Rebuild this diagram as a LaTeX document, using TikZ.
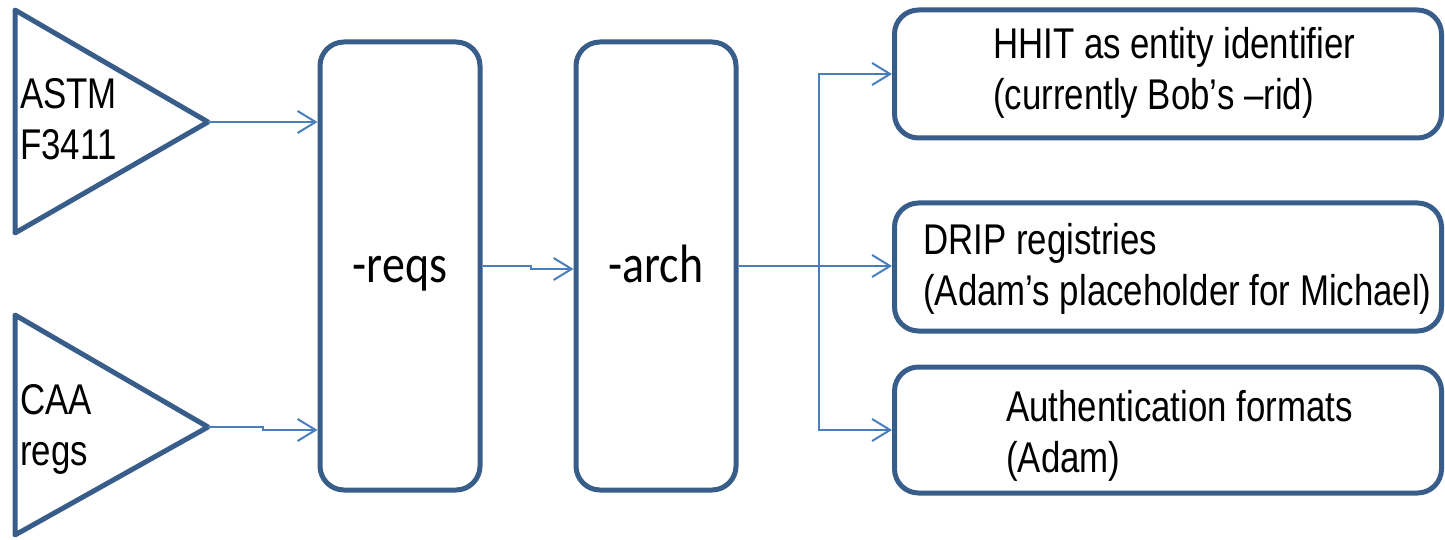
\documentclass[tikz,border=0pt]{standalone}
\usepackage{fontspec}
\setmainfont{Liberation Sans}[FakeStretch=0.81]
\newfontfamily\calfont{Carlito}[FakeStretch=0.85]
\usetikzlibrary{arrows.meta,calc}
\definecolor{boxblue}{RGB}{56,93,138}
\definecolor{linkblue}{RGB}{74,126,187}
\tikzset{
  stepbox/.style={draw=boxblue, line width=5pt, rounded corners=24pt, inner sep=0pt},
  link/.style={draw=linkblue, line width=2pt, -{Straight Barb[length=18pt,width=22pt]}},
  txt/.style={anchor=base west, align=left, inner sep=0pt, font=\fontsize{43}{51}\selectfont},
  midtxt/.style={anchor=base, inner sep=0pt, font=\calfont\fontsize{54}{60}\selectfont}
}

\begin{document}
\begin{tikzpicture}[x=1pt,y=-1pt]
\useasboundingbox (0,0) rectangle (1445,540);
\draw[boxblue, line width=5pt, line join=round] (15,10) -- (15,233) -- (208,122) coordinate (astm) -- cycle;
\draw[boxblue, line width=5pt, line join=round] (15,315) -- (15,535) -- (208,427) coordinate (caa) -- cycle;
\node[txt] (astmtxt) at (20,160) {ASTM\\F3411};
\node[txt] (caatxt) at (20,465) {CAA\\regs};

\node[stepbox, minimum width=160pt, minimum height=448pt] (reqs) at (400,266) {};
\node[stepbox, minimum width=160pt, minimum height=448pt] (arch) at (656,266) {};
\node[midtxt] (reqstxt) at (400,282) {-reqs};
\node[midtxt] (archtxt) at (656,282) {-arch};

\node[stepbox, minimum width=547pt, minimum height=128pt] (hhit) at (1168,74) {};
\node[stepbox, minimum width=547pt, minimum height=128pt] (drip) at (1168,267) {};
\node[stepbox, minimum width=547pt, minimum height=126pt] (auth) at (1168,430) {};
\node[txt] (hhittxt) at (993,110) {HHIT as entity identifier\\(currently Bob’s –rid)};
\node[txt] (driptxt) at (923,305) {DRIP registries\\(Adam’s placeholder for Michael)};
\node[txt] (authtxt) at (1006,472) {Authentication formats\\(Adam)};

\draw[link] (astm) -- (reqs.west |- astm);
\draw[link] (caa) -- ++(55,0) |- ([yshift=-3pt]reqs.west |- caa);
\draw[link] (reqs.east) -- ++(48,0) |- ([yshift=-3pt]arch.west);
\coordinate (branch) at ($(arch.east)+(80,0)$);
\draw[link] (arch.east) -- (drip.west |- arch.east);
\draw[link] (branch) |- (hhit.west);
\draw[link] (branch) |- (auth.west);
\end{tikzpicture}
\end{document}
